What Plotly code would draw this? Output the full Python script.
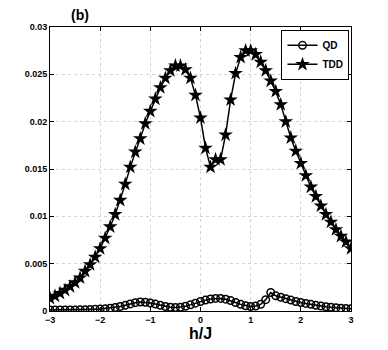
import numpy as np
import plotly.graph_objects as go

h = np.round(np.arange(-3.0, 3.01, 0.1), 1)

tdd = [0.00134, 0.00158, 0.00187, 0.0022, 0.00257, 0.0030, 0.0035, 0.0042, 0.0049, 0.0057,
       0.0066, 0.0077, 0.0089, 0.0102, 0.0117, 0.0134, 0.0152, 0.0168, 0.0182, 0.0198,
       0.0211, 0.0224, 0.0236, 0.0246, 0.0254, 0.0259, 0.0259, 0.0255, 0.0246, 0.0228,
       0.0204, 0.0172, 0.0152, 0.0160, 0.0160, 0.0186, 0.0223, 0.0251, 0.0268, 0.0275,
       0.0275, 0.0271, 0.0263, 0.0254, 0.0243, 0.0232, 0.0218, 0.0200, 0.0183, 0.0169,
       0.0156, 0.0143, 0.0131, 0.0121, 0.0111, 0.0102, 0.0094, 0.0086, 0.0079, 0.0073,
       0.0066]

qd = [0.0001, 0.0001, 0.0001, 0.0001, 0.0001, 0.0001, 0.00012, 0.00013, 0.00015, 0.00018,
      0.0002, 0.00025, 0.0003, 0.00037, 0.00047, 0.0006, 0.00075, 0.00088, 0.00095, 0.00093,
      0.00085, 0.00073, 0.0006, 0.00048, 0.0004, 0.00036, 0.0004, 0.0005, 0.00065, 0.00083,
      0.001, 0.00115, 0.00127, 0.00133, 0.00133, 0.00125, 0.0011, 0.0009, 0.0007, 0.00055,
      0.00048, 0.00052, 0.0007, 0.0012, 0.00195, 0.0016, 0.00145, 0.0013, 0.00115, 0.001,
      0.0009, 0.0008, 0.0007, 0.0006, 0.00052, 0.00045, 0.0004, 0.00035, 0.0003, 0.00027,
      0.00025]

x_ticks = [-3, -2, -1, 0, 1, 2, 3]
y_ticks = [0, 0.005, 0.01, 0.015, 0.02, 0.025, 0.03]
y_labels = ["0", "0.005", "0.01", "0.015", "0.02", "0.025", "0.03"]

font = "Liberation Sans, Arial, Helvetica, sans-serif"

fig = go.Figure()
fig.add_trace(go.Scatter(
    x=h, y=qd, mode="lines+markers", name="QD",
    line=dict(color="black", width=1.5),
    marker=dict(symbol="circle-open", size=7.5, color="black", line=dict(width=1.5))
))
fig.add_trace(go.Scatter(
    x=h, y=tdd, mode="lines+markers", name="TDD",
    line=dict(color="black", width=1.5),
    marker=dict(symbol="star", size=11, color="black")
))

axis_common = dict(
    showline=True, linecolor="black", linewidth=1, mirror="ticks",
    ticks="inside", ticklen=4, tickcolor="black",
    showgrid=True, gridcolor="#d4d4d4", griddash="dot", gridwidth=1,
    zeroline=False,
    tickfont=dict(family=font, size=9, color="black", weight="bold"),
)

fig.update_xaxes(range=[-3, 3], tickvals=x_ticks,
                 ticktext=["\u22123", "\u22122", "\u22121", "0", "1", "2", "3"],
                 **axis_common)
fig.update_yaxes(range=[0, 0.03], tickvals=y_ticks, ticktext=y_labels, **axis_common)

# page body adds an 8px offset, so the figure is a little smaller than the window
fig.update_layout(
    width=380, height=342,
    margin=dict(l=42, r=37, t=19, b=39),
    paper_bgcolor="white", plot_bgcolor="white",
    showlegend=True,
    legend=dict(x=0.995, y=0.99, xanchor="right", yanchor="top",
                bordercolor="black", borderwidth=1, bgcolor="white",
                font=dict(family=font, size=10, color="black", weight="bold"),
                tracegroupgap=0, itemwidth=30),
    annotations=[
        dict(text="(b)", x=0.1, y=1.0, xref="paper", yref="paper",
             xanchor="center", yanchor="bottom", yshift=2, showarrow=False,
             font=dict(family=font, size=14, color="black", weight="bold")),
        dict(text="h/J", x=0.5, y=0, xref="paper", yref="paper",
             xanchor="center", yanchor="middle", yshift=-22, showarrow=False,
             font=dict(family=font, size=16, color="black", weight="bold")),
    ],
)

fig.write_html("out.html")
